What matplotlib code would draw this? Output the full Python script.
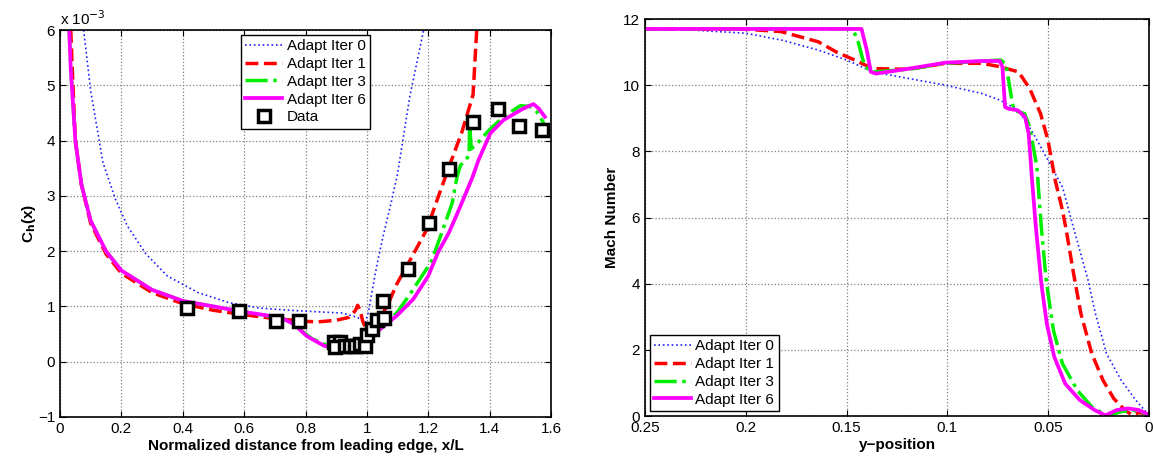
import numpy as np
import matplotlib
matplotlib.use("Agg")
import matplotlib.pyplot as plt
from matplotlib.ticker import FormatStrFormatter

plt.rcParams['font.family'] = ['Liberation Sans', 'DejaVu Sans']

# left panel: heat transfer coefficient, values in units of 1e-3
x_it0 = [0.077, 0.10, 0.14, 0.18, 0.22, 0.28, 0.35, 0.45, 0.55, 0.65, 0.75, 0.85, 0.92, 0.97, 0.995,
         1.005, 1.016, 1.032, 1.05, 1.08, 1.10, 1.14, 1.185]
ch_it0 = [6.0, 4.9, 3.6, 2.95, 2.45, 1.95, 1.55, 1.25, 1.07, 0.97, 0.93, 0.90, 0.88, 0.80, 0.71,
          0.89, 1.25, 1.73, 2.2, 2.9, 3.4, 4.8, 6.0]

x_it1 = [0.035, 0.04, 0.05, 0.07, 0.10, 0.15, 0.20, 0.30, 0.40, 0.50, 0.60, 0.70, 0.80, 0.84, 0.90,
         0.94, 0.962, 0.97, 0.978, 0.986, 1.0, 1.02, 1.05, 1.076, 1.097, 1.15, 1.195, 1.235, 1.272,
         1.31, 1.346, 1.358]
ch_it1 = [6.0, 5.3, 4.0, 3.2, 2.5, 1.95, 1.6, 1.25, 1.05, 0.93, 0.85, 0.78, 0.73, 0.72, 0.75,
          0.80, 0.92, 1.02, 0.94, 0.74, 0.56, 0.60, 0.85, 1.13, 1.40, 1.93, 2.39, 3.02, 3.59,
          4.16, 4.83, 6.0]

x_it3 = [0.03, 0.035, 0.05, 0.07, 0.10, 0.15, 0.20, 0.30, 0.40, 0.50, 0.60, 0.70, 0.73, 0.76, 0.78,
         0.82, 0.86, 0.90, 0.95, 1.00, 1.05, 1.10, 1.15, 1.21, 1.24, 1.278, 1.294, 1.305, 1.32,
         1.333, 1.335, 1.34, 1.36, 1.40, 1.45, 1.50, 1.53, 1.554, 1.577]
ch_it3 = [6.0, 5.3, 4.0, 3.2, 2.55, 2.0, 1.65, 1.3, 1.1, 1.0, 0.9, 0.8, 0.77, 0.70, 0.59,
          0.42, 0.32, 0.27, 0.27, 0.38, 0.62, 0.9, 1.3, 1.81, 2.27, 2.87, 3.35, 3.55, 3.65,
          3.72, 4.33, 3.85, 3.95, 4.2, 4.45, 4.63, 4.62, 4.52, 4.31]

x_it6 = [0.03, 0.035, 0.05, 0.07, 0.10, 0.15, 0.20, 0.30, 0.40, 0.50, 0.60, 0.719, 0.762, 0.805,
         0.86, 0.89, 0.935, 1.0, 1.043, 1.097, 1.151, 1.20, 1.232, 1.267, 1.30, 1.343, 1.364,
         1.402, 1.445, 1.51, 1.543, 1.56, 1.58]
ch_it6 = [6.0, 5.3, 4.0, 3.2, 2.55, 2.0, 1.65, 1.3, 1.1, 1.0, 0.9, 0.80, 0.68, 0.46,
          0.29, 0.25, 0.23, 0.35, 0.59, 0.83, 1.13, 1.55, 1.98, 2.33, 2.75, 3.32, 3.65,
          4.13, 4.37, 4.58, 4.66, 4.58, 4.43]

x_data = [0.414, 0.582, 0.704, 0.78, 0.892, 0.911, 0.897, 0.93, 0.946, 0.962, 0.978, 0.995,
          1.002, 1.016, 1.032, 1.056, 1.054, 1.135, 1.202, 1.269, 1.345, 1.426, 1.497, 1.571]
ch_data = [0.97, 0.91, 0.74, 0.73, 0.36, 0.36, 0.26, 0.29, 0.28, 0.29, 0.32, 0.29,
           0.48, 0.59, 0.76, 0.79, 1.09, 1.67, 2.51, 3.48, 4.33, 4.57, 4.27, 4.2]

# right panel: Mach number profiles
y_m0 = [0.25, 0.228, 0.2, 0.182, 0.164, 0.15, 0.137, 0.119, 0.101, 0.083, 0.074, 0.0647, 0.0574,
        0.0501, 0.0429, 0.0375, 0.0302, 0.0266, 0.0211, 0.0139, 0.0066, 0.003, 0.0]
m_m0 = [11.69, 11.67, 11.57, 11.36, 11.06, 10.76, 10.4, 10.2, 10.0, 9.75, 9.55, 9.24, 8.54,
        7.73, 6.92, 5.7, 4.1, 3.1, 1.89, 1.09, 0.48, 0.23, 0.03]

y_m1 = [0.25, 0.2, 0.1825, 0.164, 0.155, 0.146, 0.137, 0.119, 0.101, 0.083, 0.074, 0.0647, 0.0592,
        0.0538, 0.0501, 0.0465, 0.0429, 0.041, 0.0374, 0.0338, 0.0284, 0.0229, 0.0175, 0.012,
        0.0084, 0.005, 0.0]
m_m1 = [11.7, 11.69, 11.62, 11.31, 11.0, 10.76, 10.5, 10.48, 10.66, 10.66, 10.56, 10.4, 9.9,
        9.14, 8.33, 7.12, 6.21, 5.6, 4.3, 3.1, 1.89, 1.09, 0.53, 0.18,
        0.03, 0.1, 0.05]

y_m3 = [0.25, 0.147, 0.1445, 0.141, 0.137, 0.119, 0.101, 0.0737, 0.071, 0.0683, 0.067, 0.0617,
        0.0592, 0.0556, 0.0534, 0.051, 0.0474, 0.043, 0.0356, 0.0284, 0.021, 0.0139, 0.0084,
        0.003, 0.0]
m_m3 = [11.7, 11.7, 11.36, 10.56, 10.4, 10.48, 10.66, 10.76, 10.65, 9.65, 9.24, 9.14,
        8.74, 7.53, 5.7, 4.1, 2.59, 1.59, 0.78, 0.28, 0.0, 0.13, 0.18,
        0.1, 0.03]

y_m6 = [0.25, 0.1426, 0.14, 0.138, 0.1354, 0.119, 0.101, 0.083, 0.074, 0.0727, 0.0714, 0.0697,
        0.0651, 0.0615, 0.0597, 0.058, 0.0561, 0.0534, 0.0507, 0.047, 0.0416, 0.0343, 0.027,
        0.0216, 0.016, 0.0104, 0.005, 0.0]
m_m6 = [11.7, 11.7, 11.06, 10.4, 10.35, 10.5, 10.68, 10.73, 10.73, 10.55, 9.34, 9.29,
        9.24, 9.04, 8.54, 7.12, 5.7, 4.0, 2.79, 1.79, 0.98, 0.48, 0.18,
        0.02, 0.18, 0.23, 0.18, 0.03]

labels = ['Adapt Iter 0', 'Adapt Iter 1', 'Adapt Iter 3', 'Adapt Iter 6']

fig = plt.figure(figsize=(11.53, 4.57), dpi=100)
ax1 = fig.add_axes([60/1153, 40/457, 491/1153, 387/457])
ax2 = fig.add_axes([645/1153, 41/457, 504/1153, 397/457])

styles = [dict(color='#2020ff', ls=':', lw=1.2),
          dict(color='red', ls='--', lw=2.5),
          dict(color='#00ee00', ls='-.', lw=2.5),
          dict(color='magenta', ls='-', lw=2.7)]

for xs, ys, st, lab in zip([x_it0, x_it1, x_it3, x_it6], [ch_it0, ch_it1, ch_it3, ch_it6], styles, labels):
    ax1.plot(xs, ys, label=lab, **st)
ax1.plot(x_data, ch_data, 's', ms=8, mfc='white', mec='black', mew=2.5, label='Data')

ax1.set_xlim(0, 1.6)
ax1.set_ylim(-1, 6)
ax1.set_xticks(np.arange(0, 1.61, 0.2))
ax1.set_yticks(np.arange(-1, 7, 1))
ax1.xaxis.set_major_formatter(FormatStrFormatter('%g'))
ax1.set_xlabel('Normalized distance from leading edge, x/L', fontsize=11, fontweight='bold', labelpad=2)
ax1.set_ylabel('C$_\\mathbf{h}$(x)', fontsize=11, fontweight='bold', labelpad=0)
ax1.text(0.0, 1.005, 'x 10$^{-3}$', transform=ax1.transAxes, fontsize=11, va='bottom', ha='left')
ax1.legend(loc='upper center', fontsize=11, fancybox=False, edgecolor='black', framealpha=1,
           handlelength=2.4, labelspacing=0.25, borderaxespad=0.3, borderpad=0.3, handletextpad=0.3)

for ys, ms, st, lab in zip([y_m0, y_m1, y_m3, y_m6], [m_m0, m_m1, m_m3, m_m6], styles, labels):
    ax2.plot(ys, ms, label=lab, **st)
ax2.set_xlim(0.25, 0)
ax2.set_ylim(0, 12)
ax2.set_xticks([0.25, 0.2, 0.15, 0.1, 0.05, 0])
ax2.set_yticks(np.arange(0, 13, 2))
ax2.xaxis.set_major_formatter(FormatStrFormatter('%g'))
ax2.set_xlabel('y\u2212position', fontsize=11, fontweight='bold', labelpad=2)
ax2.set_ylabel('Mach Number', fontsize=11, fontweight='bold', labelpad=3)
ax2.legend(loc='lower left', fontsize=11, fancybox=False, edgecolor='black', framealpha=1,
           handlelength=2.4, labelspacing=0.25, borderaxespad=0.3, borderpad=0.3, handletextpad=0.3)

for ax in (ax1, ax2):
    ax.grid(True, ls=':', color='#808080', lw=0.9)
    ax.tick_params(direction='in', top=True, right=True, labelsize=11, length=4)
    for s in ax.spines.values():
        s.set_linewidth(1.2)

fig.savefig('out.png', dpi=100)
